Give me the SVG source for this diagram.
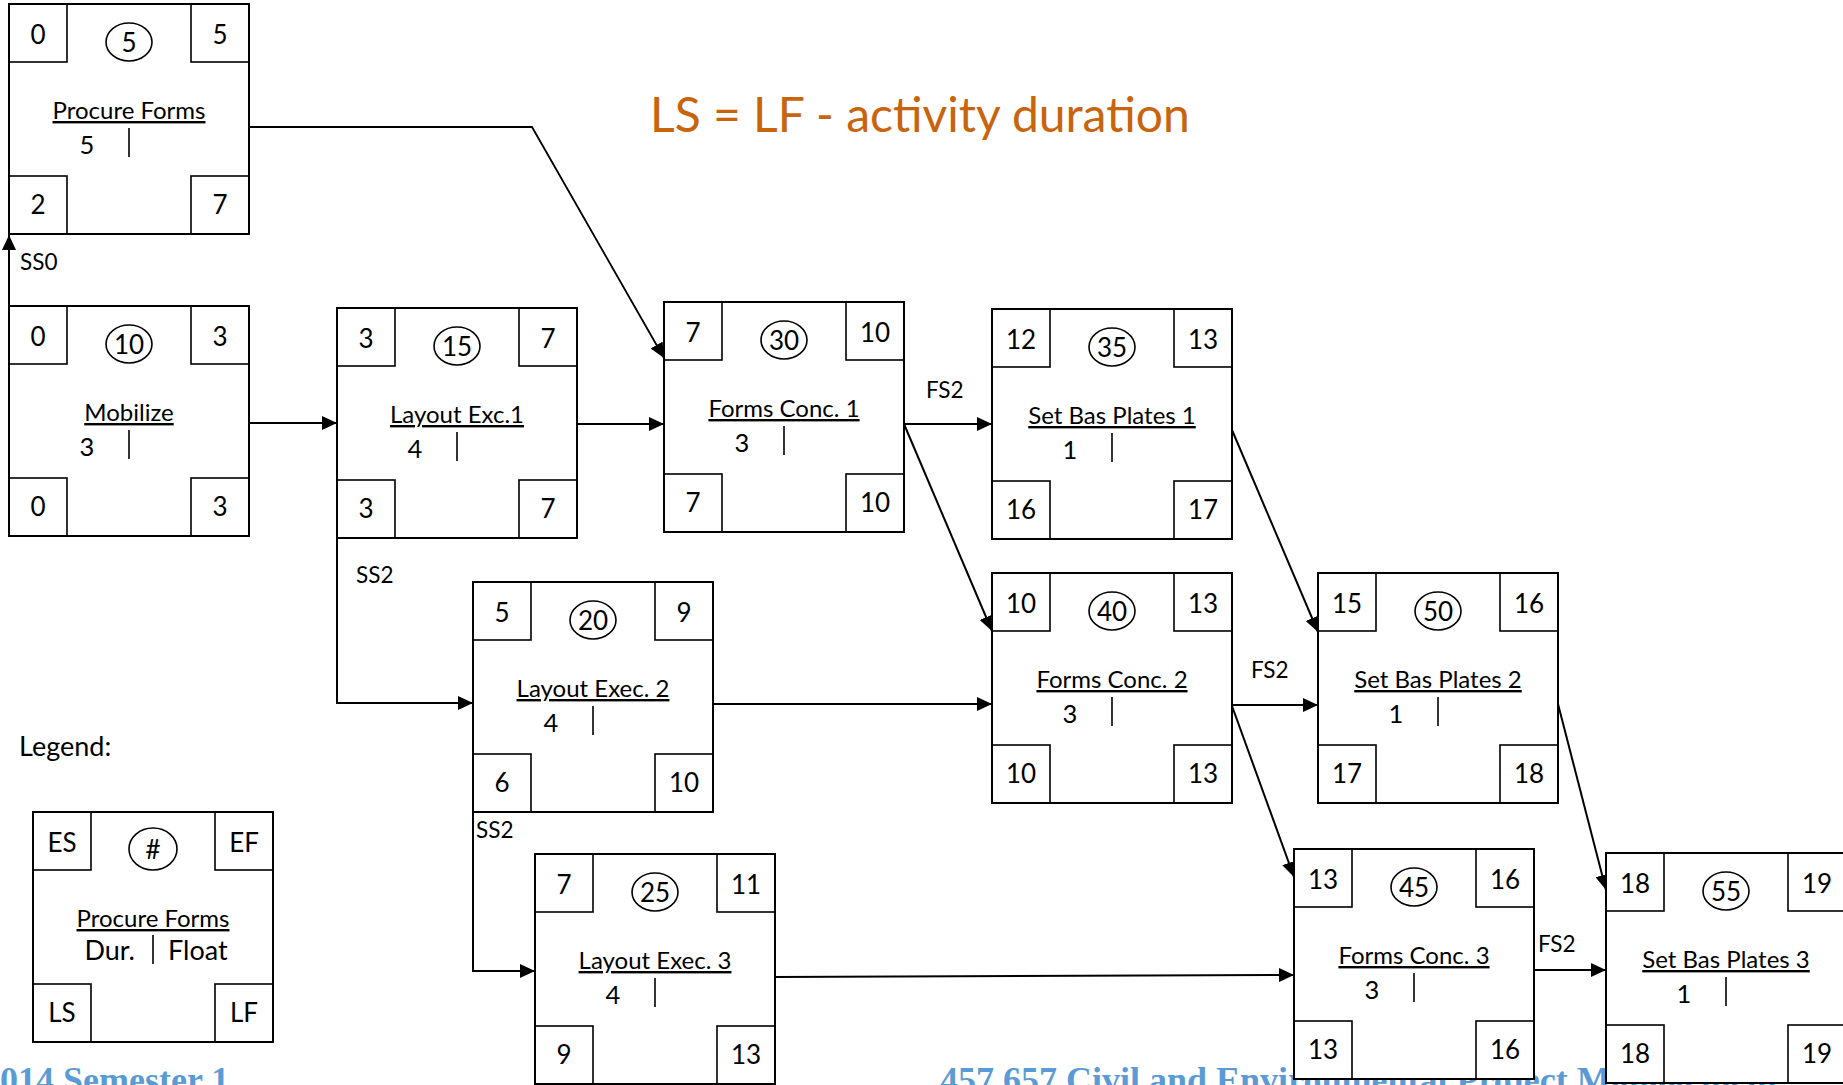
<svg xmlns="http://www.w3.org/2000/svg" width="1843" height="1085" viewBox="0 0 1843 1085">
<style>
text{font-family:Lato,"Liberation Sans",sans-serif;fill:#000}
.box{fill:#fff;stroke:#000;stroke-width:2}
.cell{fill:none;stroke:#000;stroke-width:1.6}
.oval{fill:none;stroke:#000;stroke-width:1.6}
.bar{stroke:#000;stroke-width:1.6}
.num{font-size:26px;text-anchor:middle}
.ttl{font-size:24px;text-anchor:middle;text-decoration:underline}
.dur{font-size:25.5px;text-anchor:middle}
.lbl{font-size:22.5px}
.conn{fill:none;stroke:#000;stroke-width:2;marker-end:url(#arr)}
.foot{font-family:"Liberation Serif",serif;font-weight:bold;font-size:36px;fill:#5B9BD5}
.head{font-size:48px;fill:#C8640C}
</style>
<defs>
<marker id="arr" markerUnits="userSpaceOnUse" markerWidth="16" markerHeight="14" refX="15" refY="7" orient="auto">
<path d="M0,0 L15,7 L0,14 z" fill="#000"/>
</marker>
<g id="frame">
<rect class="box" x="0" y="0" width="240" height="230"/>
<rect class="cell" x="0" y="0" width="58" height="58"/>
<rect class="cell" x="182" y="0" width="58" height="58"/>
<rect class="cell" x="0" y="172" width="58" height="58"/>
<rect class="cell" x="182" y="172" width="58" height="58"/>
</g>
</defs>
<rect width="1843" height="1085" fill="#fff"/>
<text class="foot" x="-18" y="1092">2014 Semester 1</text>
<text class="foot" x="940" y="1092">457.657 Civil and Environmental Project Management</text>
<text class="head" x="650" y="132">LS = LF - activity duration</text>
<text class="lbl" x="19" y="756" style="font-size:27px">Legend:</text>

<g id="connectors">
<path class="conn" d="M9,306 L9,235"/>
<path class="conn" d="M249,127 L532,127 L664,358" style="stroke-width:1.8"/>
<path class="conn" d="M249,423 L337,423"/>
<path class="conn" d="M577,424 L664,424"/>
<path class="conn" d="M337,538 L337,703 L473,703"/>
<path class="conn" d="M473,812 L473,971 L535,971"/>
<path class="conn" d="M713,704 L992,704"/>
<path class="conn" d="M775,977 L1294,975"/>
<path class="conn" d="M904,424 L992,424"/>
<path class="conn" d="M904,424 L992,631"/>
<path class="conn" d="M1232,430 L1318,632"/>
<path class="conn" d="M1232,705 L1318,705"/>
<path class="conn" d="M1232,706 L1294,877"/>
<path class="conn" d="M1558,704 L1606,890"/>
<path class="conn" d="M1534,970 L1606,970"/>
<text class="lbl" x="20" y="270">SS0</text>
<text class="lbl" x="356" y="583">SS2</text>
<text class="lbl" x="476" y="838">SS2</text>
<text class="lbl" x="926" y="398">FS2</text>
<text class="lbl" x="1251" y="678">FS2</text>
<text class="lbl" x="1538" y="952">FS2</text>
</g>

<g id="n5" transform="translate(9,4)">
<use href="#frame"/>
<ellipse class="oval" cx="120" cy="38" rx="23" ry="19"/>
<text class="num" x="120" y="48">5</text>
<text class="num" x="29" y="40">0</text><text class="num" x="211" y="40">5</text>
<text class="num" x="29" y="210">2</text><text class="num" x="211" y="210">7</text>
<text class="ttl" x="120" y="115">Procure Forms</text>
<text class="dur" x="78" y="150">5</text>
<line class="bar" x1="120" y1="124" x2="120" y2="153"/>
</g>

<g id="n10" transform="translate(9,306)">
<use href="#frame"/>
<ellipse class="oval" cx="120" cy="38" rx="23" ry="19"/>
<text class="num" x="120" y="48">10</text>
<text class="num" x="29" y="40">0</text><text class="num" x="211" y="40">3</text>
<text class="num" x="29" y="210">0</text><text class="num" x="211" y="210">3</text>
<text class="ttl" x="120" y="115">Mobilize</text>
<text class="dur" x="78" y="150">3</text>
<line class="bar" x1="120" y1="124" x2="120" y2="153"/>
</g>

<g id="n15" transform="translate(337,308)">
<use href="#frame"/>
<ellipse class="oval" cx="120" cy="38" rx="23" ry="19"/>
<text class="num" x="120" y="48">15</text>
<text class="num" x="29" y="40">3</text><text class="num" x="211" y="40">7</text>
<text class="num" x="29" y="210">3</text><text class="num" x="211" y="210">7</text>
<text class="ttl" x="120" y="115">Layout Exc.1</text>
<text class="dur" x="78" y="150">4</text>
<line class="bar" x1="120" y1="124" x2="120" y2="153"/>
</g>

<g id="n30" transform="translate(664,302)">
<use href="#frame"/>
<ellipse class="oval" cx="120" cy="38" rx="23" ry="19"/>
<text class="num" x="120" y="48">30</text>
<text class="num" x="29" y="40">7</text><text class="num" x="211" y="40">10</text>
<text class="num" x="29" y="210">7</text><text class="num" x="211" y="210">10</text>
<text class="ttl" x="120" y="115">Forms Conc. 1</text>
<text class="dur" x="78" y="150">3</text>
<line class="bar" x1="120" y1="124" x2="120" y2="153"/>
</g>

<g id="n35" transform="translate(992,309)">
<use href="#frame"/>
<ellipse class="oval" cx="120" cy="38" rx="23" ry="19"/>
<text class="num" x="120" y="48">35</text>
<text class="num" x="29" y="40">12</text><text class="num" x="211" y="40">13</text>
<text class="num" x="29" y="210">16</text><text class="num" x="211" y="210">17</text>
<text class="ttl" x="120" y="115">Set Bas Plates 1</text>
<text class="dur" x="78" y="150">1</text>
<line class="bar" x1="120" y1="124" x2="120" y2="153"/>
</g>

<g id="n20" transform="translate(473,582)">
<use href="#frame"/>
<ellipse class="oval" cx="120" cy="38" rx="23" ry="19"/>
<text class="num" x="120" y="48">20</text>
<text class="num" x="29" y="40">5</text><text class="num" x="211" y="40">9</text>
<text class="num" x="29" y="210">6</text><text class="num" x="211" y="210">10</text>
<text class="ttl" x="120" y="115">Layout Exec. 2</text>
<text class="dur" x="78" y="150">4</text>
<line class="bar" x1="120" y1="124" x2="120" y2="153"/>
</g>

<g id="n40" transform="translate(992,573)">
<use href="#frame"/>
<ellipse class="oval" cx="120" cy="38" rx="23" ry="19"/>
<text class="num" x="120" y="48">40</text>
<text class="num" x="29" y="40">10</text><text class="num" x="211" y="40">13</text>
<text class="num" x="29" y="210">10</text><text class="num" x="211" y="210">13</text>
<text class="ttl" x="120" y="115">Forms Conc. 2</text>
<text class="dur" x="78" y="150">3</text>
<line class="bar" x1="120" y1="124" x2="120" y2="153"/>
</g>

<g id="n50" transform="translate(1318,573)">
<use href="#frame"/>
<ellipse class="oval" cx="120" cy="38" rx="23" ry="19"/>
<text class="num" x="120" y="48">50</text>
<text class="num" x="29" y="40">15</text><text class="num" x="211" y="40">16</text>
<text class="num" x="29" y="210">17</text><text class="num" x="211" y="210">18</text>
<text class="ttl" x="120" y="115">Set Bas Plates 2</text>
<text class="dur" x="78" y="150">1</text>
<line class="bar" x1="120" y1="124" x2="120" y2="153"/>
</g>

<g id="n25" transform="translate(535,854)">
<use href="#frame"/>
<ellipse class="oval" cx="120" cy="38" rx="23" ry="19"/>
<text class="num" x="120" y="48">25</text>
<text class="num" x="29" y="40">7</text><text class="num" x="211" y="40">11</text>
<text class="num" x="29" y="210">9</text><text class="num" x="211" y="210">13</text>
<text class="ttl" x="120" y="115">Layout Exec. 3</text>
<text class="dur" x="78" y="150">4</text>
<line class="bar" x1="120" y1="124" x2="120" y2="153"/>
</g>

<g id="n45" transform="translate(1294,849)">
<use href="#frame"/>
<ellipse class="oval" cx="120" cy="38" rx="23" ry="19"/>
<text class="num" x="120" y="48">45</text>
<text class="num" x="29" y="40">13</text><text class="num" x="211" y="40">16</text>
<text class="num" x="29" y="210">13</text><text class="num" x="211" y="210">16</text>
<text class="ttl" x="120" y="115">Forms Conc. 3</text>
<text class="dur" x="78" y="150">3</text>
<line class="bar" x1="120" y1="124" x2="120" y2="153"/>
</g>

<g id="n55" transform="translate(1606,853)">
<use href="#frame"/>
<ellipse class="oval" cx="120" cy="38" rx="23" ry="19"/>
<text class="num" x="120" y="48">55</text>
<text class="num" x="29" y="40">18</text><text class="num" x="211" y="40">19</text>
<text class="num" x="29" y="210">18</text><text class="num" x="211" y="210">19</text>
<text class="ttl" x="120" y="115">Set Bas Plates 3</text>
<text class="dur" x="78" y="150">1</text>
<line class="bar" x1="120" y1="124" x2="120" y2="153"/>
</g>

<g id="legend" transform="translate(33,812)">
<use href="#frame"/>
<ellipse class="oval" cx="120" cy="37" rx="24" ry="21"/>
<text class="num" x="120" y="47">#</text>
<text class="num" x="29" y="40">ES</text><text class="num" x="211" y="40">EF</text>
<text class="num" x="29" y="210">LS</text><text class="num" x="211" y="210">LF</text>
<text class="ttl" x="120" y="115">Procure Forms</text>
<text class="dur" x="102" y="148" style="font-size:27px;text-anchor:end">Dur.</text>
<text class="dur" x="135" y="148" style="font-size:27px;text-anchor:start">Float</text>
<line class="bar" x1="120" y1="123" x2="120" y2="152"/>
</g>
</svg>
